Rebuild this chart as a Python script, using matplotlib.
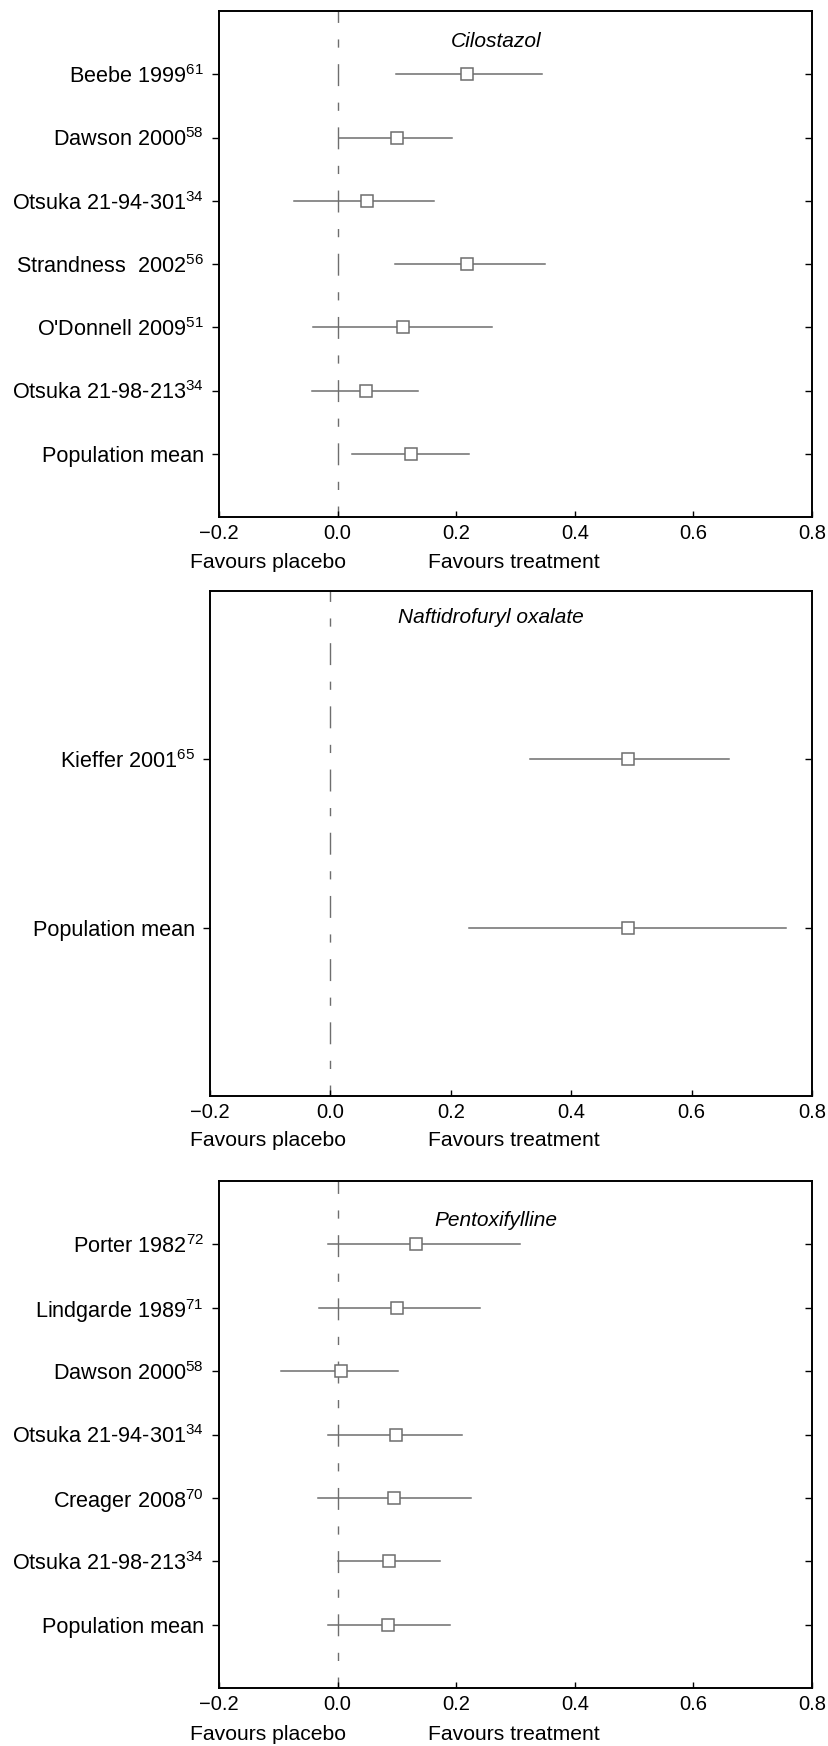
import matplotlib
matplotlib.use('Agg')
import matplotlib.pyplot as plt
from matplotlib.ticker import FuncFormatter

plt.rcParams['font.family'] = ['Liberation Sans', 'DejaVu Sans']
plt.rcParams['mathtext.fontset'] = 'custom'
plt.rcParams['mathtext.rm'] = 'Liberation Sans'
plt.rcParams['mathtext.it'] = 'Liberation Sans:italic'
plt.rcParams['mathtext.default'] = 'regular'

# Cilostazol
cilo_names = ['Beebe 1999$^{61}$', 'Dawson 2000$^{58}$', 'Otsuka 21-94-301$^{34}$',
              'Strandness  2002$^{56}$', "O'Donnell 2009$^{51}$",
              'Otsuka 21-98-213$^{34}$', 'Population mean']
cilo_est = [0.218, 0.100, 0.050, 0.218, 0.110, 0.048, 0.123]
cilo_lo = [0.099, 0.003, -0.073, 0.096, -0.041, -0.044, 0.024]
cilo_hi = [0.345, 0.193, 0.163, 0.350, 0.261, 0.136, 0.222]

# Naftidrofuryl oxalate
nafti_names = ['Kieffer 2001$^{65}$', 'Population mean']
nafti_est = [0.494, 0.494]
nafti_lo = [0.331, 0.231]
nafti_hi = [0.662, 0.756]

# Pentoxifylline
pento_names = ['Porter 1982$^{72}$', 'Lindgarde 1989$^{71}$', 'Dawson 2000$^{58}$',
               'Otsuka 21-94-301$^{34}$', 'Creager 2008$^{70}$',
               'Otsuka 21-98-213$^{34}$', 'Population mean']
pento_est = [0.133, 0.100, 0.005, 0.098, 0.095, 0.087, 0.085]
pento_lo = [-0.016, -0.032, -0.096, -0.016, -0.033, 0.000, -0.016]
pento_hi = [0.308, 0.240, 0.102, 0.210, 0.225, 0.172, 0.190]

x_ticks = [-0.2, 0.0, 0.2, 0.4, 0.6, 0.8]

W, H = 829, 1746
GRAY = '#6e6e6e'


def px_axes(fig, left, top, right, bottom):
    return fig.add_axes([left / W, 1 - bottom / H, (right - left) / W, (bottom - top) / H])


def forest(ax, names, est, lo, hi, title, title_y):
    n = len(names)
    rows = list(range(1, n + 1))
    # zero line: long dash centred on each row, short dash between
    ax.plot([0, 0], [n + 1, 0], color=GRAY, lw=1.0,
            linestyle=(7.9, (15.8, 11.9, 5.9, 11.9)), zorder=1)
    for y, a, b in zip(rows, lo, hi):
        ax.plot([a, b], [y, y], color=GRAY, lw=1.1, zorder=2)
    ax.plot(est, rows, 's', ms=8.5, mfc='white', mec=GRAY, mew=1.1, zorder=3)

    ax.set_xlim(-0.2, 0.8)
    ax.set_ylim(n + 1, 0)
    ax.set_xticks(x_ticks)
    ax.xaxis.set_major_formatter(FuncFormatter(lambda v, p: ('%.1f' % v).replace('-', '\u2212')))
    ax.set_yticks(rows)
    ax.set_yticklabels(names)
    ax.tick_params(axis='x', direction='in', length=4, width=1, pad=5, labelsize=14.5, top=False)
    ax.tick_params(axis='y', direction='out', length=5, width=1, pad=6, labelsize=15.6)
    sec = ax.secondary_yaxis('right')
    sec.set_yticks(rows)
    sec.set_yticklabels([])
    sec.tick_params(direction='in', length=5, width=1)
    sec.spines['right'].set_visible(False)
    for s in ax.spines.values():
        s.set_linewidth(1.4)
        s.set_color('black')
    ax.text(0.467, title_y, title, transform=ax.transAxes, ha='center', va='center',
            fontsize=15, style='italic')


fig = plt.figure(figsize=(W / 100, H / 100), dpi=100)

ax1 = px_axes(fig, 219, 11, 812, 517)
forest(ax1, cilo_names, cilo_est, cilo_lo, cilo_hi, 'Cilostazol', 1 - 0.06)

ax2 = px_axes(fig, 210, 591, 812, 1096)
forest(ax2, nafti_names, nafti_est, nafti_lo, nafti_hi, 'Naftidrofuryl oxalate', 1 - 0.053)

ax3 = px_axes(fig, 219, 1181, 812, 1688)
forest(ax3, pento_names, pento_est, pento_lo, pento_hi, 'Pentoxifylline', 1 - 0.077)

for yb in [562, 1141, 1734]:
    fig.text(190 / W, 1 - yb / H, 'Favours placebo', ha='left', va='center', fontsize=15.2)
    fig.text(428 / W, 1 - yb / H, 'Favours treatment', ha='left', va='center', fontsize=15.2)

fig.savefig('out.png', dpi=100)
